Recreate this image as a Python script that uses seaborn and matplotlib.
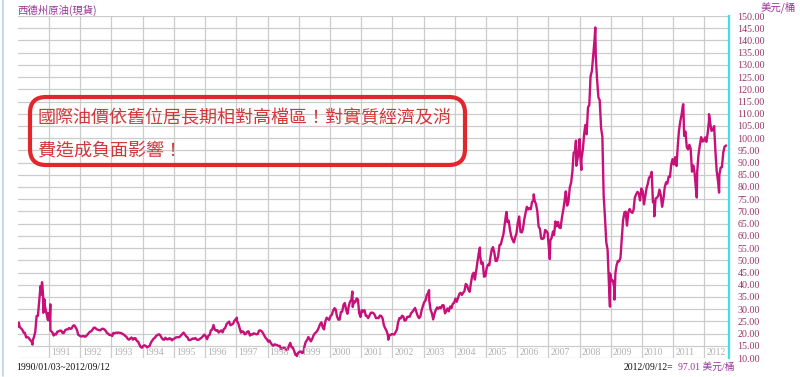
import matplotlib
matplotlib.use("Agg")
import matplotlib.pyplot as plt
from matplotlib.patches import FancyBboxPatch
from matplotlib.lines import Line2D
import pandas as pd
import seaborn as sns

# ---- data (WTI spot, USD/bbl) ----
# early-month readings
p1990 = [22.9, 22.1, 20.4, 18.4, 18.2, 16.9, 18.6, 27.2, 33.7, 35.9, 32.3, 27.3]
p1991 = [25.2, 20.5, 19.9, 20.8, 21.2, 20.2, 21.4, 21.7, 21.9, 23.2, 22.5, 19.5]
p1992 = [18.8, 19.0, 18.9, 20.2, 20.9, 22.4, 21.8, 21.4, 21.9, 21.7, 20.3, 19.4]
p1993 = [19.0, 20.1, 20.3, 20.3, 19.9, 19.1, 17.9, 18.0, 17.5, 18.1, 16.7, 14.5]
p1994 = [15.0, 14.8, 14.7, 16.4, 17.9, 19.1, 19.7, 18.4, 17.5, 17.7, 18.1, 17.2]
p1995 = [18.0, 18.5, 18.6, 19.9, 19.7, 18.5, 17.3, 18.0, 18.2, 17.4, 18.0, 19.0]
p1996 = [18.9, 19.1, 21.3, 23.5, 21.2, 20.4, 21.3, 21.9, 23.9, 24.9, 23.7, 25.2]
p1997 = [25.1, 22.2, 20.9, 19.7, 20.8, 19.2, 19.6, 19.9, 19.8, 21.3, 20.2, 18.3]
p1998 = [16.7, 16.1, 15.0, 15.4, 14.9, 13.7, 14.2, 13.4, 15.0, 14.4, 12.9, 11.3]
p1999 = [12.5, 12.0, 14.7, 17.3, 17.8, 17.9, 20.1, 21.3, 23.9, 22.6, 25.0, 26.1]
p2000 = [27.2, 29.4, 29.9, 25.7, 28.8, 31.8, 29.8, 31.2, 33.9, 33.1, 34.4, 28.4]
p2001 = [29.6, 29.6, 27.2, 27.4, 28.6, 27.6, 26.4, 27.4, 26.2, 22.2, 19.6, 19.3]
p2002 = [19.7, 20.7, 24.5, 26.2, 27.0, 25.5, 26.9, 28.4, 29.7, 28.9, 26.3, 29.4]
p2003 = [32.9, 35.9, 33.6, 28.3, 28.1, 30.7, 30.8, 31.6, 28.3, 30.3, 31.1, 32.2]
p2004 = [34.3, 34.7, 36.7, 36.7, 40.3, 38.0, 40.7, 44.9, 46.0, 53.1, 48.5, 43.3]
p2005 = [46.8, 48.0, 54.3, 53.0, 49.8, 56.3, 58.7, 65.0, 65.6, 62.4, 58.3, 59.4]
p2006 = [65.5, 61.6, 62.7, 69.4, 70.8, 70.9, 74.4, 73.0, 63.8, 58.9, 59.1, 62.0]
p2007 = [54.5, 59.3, 60.4, 63.9, 63.4, 67.5, 74.1, 72.4, 79.9, 86.2, 94.6, 91.7]
p2008 = [92.9, 95.4, 105.4, 112.6, 125.4, 133.9, 133.4, 116.7, 104.1, 76.6, 57.3, 41.1]
p2009 = [41.7, 39.1, 47.9, 49.6, 59.0, 69.6, 64.2, 71.0, 69.4, 75.7, 78.0, 74.5]
p2010 = [78.3, 76.4, 81.2, 84.3, 73.7, 75.3, 76.3, 76.6, 75.2, 81.9, 84.3, 89.2]
p2011 = [89.2, 88.6, 102.9, 109.5, 100.9, 96.3, 97.3, 86.3, 85.5, 86.3, 97.2, 98.6]
p2012 = [100.3, 102.2, 106.2, 103.3, 94.7, 82.3, 87.9, 94.1]

# late-month readings
q1990 = [22.6, 21.5, 20.3, 18.6, 17.4, 17.1, 20.7, 27.3, 39.5, 35.2, 29.5, 28.4]
q1991 = [21.0, 19.2, 19.6, 20.9, 21.2, 20.3, 21.7, 22.3, 22.2, 23.4, 21.5, 19.2]
q1992 = [18.9, 18.7, 19.5, 20.8, 21.6, 22.4, 21.6, 21.3, 22.0, 21.2, 19.9, 19.5]
q1993 = [20.3, 20.4, 20.4, 20.2, 19.6, 18.7, 17.5, 18.4, 18.1, 17.0, 15.5, 14.2]
q1994 = [15.2, 14.3, 15.0, 17.2, 18.3, 19.4, 19.4, 17.6, 18.3, 17.6, 17.9, 17.7]
q1995 = [18.4, 18.5, 19.2, 20.4, 18.9, 17.4, 17.6, 17.8, 17.6, 17.6, 18.4, 19.6]
q1996 = [17.7, 19.5, 21.6, 21.7, 21.4, 20.9, 20.5, 22.3, 24.4, 23.4, 24.0, 25.9]
q1997 = [24.2, 20.4, 20.8, 19.9, 20.9, 19.7, 20.1, 19.7, 21.2, 21.0, 19.2, 17.7]
q1998 = [17.2, 15.4, 15.6, 15.3, 15.0, 13.9, 14.1, 13.4, 16.2, 14.3, 11.3, 12.1]
q1999 = [12.7, 12.3, 16.6, 18.6, 16.8, 19.3, 20.5, 22.4, 24.6, 21.7, 26.5, 25.6]
q2000 = [27.7, 30.4, 27.0, 25.7, 29.0, 32.5, 28.1, 33.1, 30.9, 32.8, 34.0, 26.8]
q2001 = [29.0, 27.3, 26.3, 28.5, 28.4, 26.3, 26.3, 27.2, 23.4, 21.2, 19.4, 19.8]
q2002 = [19.6, 21.7, 26.3, 27.3, 25.3, 26.8, 26.9, 28.9, 30.5, 27.3, 26.9, 31.2]
q2003 = [33.5, 36.6, 29.8, 25.8, 29.6, 30.2, 30.4, 31.6, 29.2, 29.1, 30.4, 32.5]
q2004 = [33.0, 36.2, 35.8, 37.4, 39.8, 37.1, 43.8, 42.1, 49.6, 51.8, 49.1, 43.5]
q2005 = [48.2, 51.7, 55.4, 49.7, 51.8, 56.5, 60.6, 68.9, 66.2, 59.8, 57.3, 61.0]
q2006 = [67.9, 61.4, 66.6, 71.9, 71.3, 73.9, 74.4, 70.3, 62.9, 58.7, 62.4, 61.1]
q2007 = [58.1, 61.8, 65.9, 65.7, 63.2, 70.5, 78.2, 74.0, 81.7, 94.0, 88.7, 96.0]
q2008 = [91.8, 101.8, 101.6, 113.5, 127.4, 140.0, 124.1, 115.5, 100.6, 67.8, 54.4, 44.6]
q2009 = [41.7, 44.8, 49.7, 51.1, 66.3, 69.9, 69.5, 69.9, 70.6, 77.0, 77.3, 79.4]
q2010 = [72.9, 79.7, 83.8, 86.2, 74.0, 75.6, 78.9, 71.9, 79.9, 81.4, 84.1, 91.4]
q2011 = [92.2, 97.0, 106.7, 113.4, 102.7, 95.4, 95.7, 88.8, 79.2, 93.2, 100.4, 98.8]
q2012 = [98.5, 107.1, 103.0, 104.9, 86.5, 84.9, 88.1, 96.5]

# daily extremes visible in the chart
event_dates = ["1990-01-03", "1990-01-12", "1990-06-22", "1990-09-26", "1990-10-11",
               "1990-10-26", "1990-11-08", "1990-12-20", "1991-01-16", "1991-01-17",
               "1997-01-07", "1998-12-10", "2000-09-20", "2001-11-15", "2003-03-07",
               "2004-10-22", "2005-08-30", "2006-07-14", "2007-01-18", "2007-11-20",
               "2008-01-02", "2008-01-22", "2008-07-03", "2008-12-22", "2009-02-12",
               "2010-05-25", "2011-04-29", "2011-10-04", "2012-02-24", "2012-06-21",
               "2012-09-12"]
event_prices = [23.0, 24.5, 15.5, 39.5, 41.0,
                28.5, 34.0, 25.5, 32.0, 21.4,
                26.5, 10.8, 37.2, 17.5, 37.8,
                55.2, 69.8, 77.0, 50.5, 99.0,
                99.6, 87.0, 145.3, 31.0, 33.9,
                68.0, 113.9, 75.7, 109.8, 77.7,
                97.01]

y_ticks = list(range(10, 151, 5))
year_labels = [str(y) for y in range(1991, 2013)]

title_text = "西德州原油(現貨)"
unit_text = "美元/桶"
range_text = "1990/01/03~2012/09/12"
last_date_text = "2012/09/12="
last_value_text = "97.01 美元/桶"
note_lines = ["國際油價依舊位居長期相對高檔區！對實質經濟及消", "費造成負面影響！"]

# ---- build table ----
early = (p1990 + p1991 + p1992 + p1993 + p1994 + p1995 + p1996 + p1997 + p1998
         + p1999 + p2000 + p2001 + p2002 + p2003 + p2004 + p2005 + p2006 + p2007
         + p2008 + p2009 + p2010 + p2011 + p2012)
late = (q1990 + q1991 + q1992 + q1993 + q1994 + q1995 + q1996 + q1997 + q1998
        + q1999 + q2000 + q2001 + q2002 + q2003 + q2004 + q2005 + q2006 + q2007
        + q2008 + q2009 + q2010 + q2011 + q2012)
month_starts = pd.date_range("1990-01-01", periods=len(early), freq="MS")
df = pd.concat([
    pd.DataFrame({"date": month_starts + pd.Timedelta(days=8), "price": early}),
    pd.DataFrame({"date": month_starts + pd.Timedelta(days=23), "price": late}),
    pd.DataFrame({"date": pd.to_datetime(event_dates), "price": event_prices}),
]).sort_values("date").reset_index(drop=True)
df = df[df["date"] >= pd.Timestamp("1990-01-03")]

# ---- style ----
sns.set_theme(style="white")
plt.rcParams["font.family"] = ["Liberation Serif", "Noto Sans CJK TC", "DejaVu Sans"]

W, H = 800, 377
fig = plt.figure(figsize=(8.0, 3.77), dpi=100)
fig.patch.set_facecolor("white")
ax = fig.add_axes([18 / W, 1 - 358 / H, (729 - 18) / W, (358 - 16) / H])
ax.set_facecolor("white")

line_color = "#C8107A"
tick_color = "#993366"
grid_color = "#cccccc"

sns.lineplot(data=df, x="date", y="price", ax=ax, color=line_color,
             linewidth=1.7, estimator=None, sort=False)

ax.set_xlim(pd.Timestamp("1990-01-03"), pd.Timestamp("2012-10-15"))
ax.set_ylim(10, 150)
ax.set_xlabel("")
ax.set_ylabel("")

year_starts = [pd.Timestamp(f"{y}-01-01") for y in year_labels]
ax.set_xticks(year_starts)
ax.set_xticklabels([])
ax.set_yticks(y_ticks)
ax.set_yticklabels([f"{v:.2f}" for v in y_ticks])
ax.yaxis.tick_right()
ax.tick_params(axis="y", length=0, pad=6, labelsize=7.2, labelcolor=tick_color)
ax.tick_params(axis="x", length=0)
for lab in ax.get_yticklabels():
    lab.set_fontfamily("Liberation Serif")

ax.grid(True, color=grid_color, linewidth=0.9)
ax.set_axisbelow(True)
for s in ["left", "top", "bottom"]:
    ax.spines[s].set_visible(False)
ax.spines["right"].set_color("#3fe0e8")
ax.spines["right"].set_linewidth(1.6)

# year labels inside plot at bottom
for d, lab in zip(year_starts, year_labels):
    ax.annotate(lab, xy=(d, 12.2), xytext=(2, 0), textcoords="offset pixels",
                ha="left", va="center", fontsize=7, color="#b0b0b0",
                family="Liberation Serif")

# ---- figure texts ----
def fx(x):
    return x / W

def fy(y):
    return 1 - y / H

fig.text(fx(17), fy(10), title_text, fontsize=7.5, color="#993399",
         family=["Noto Sans CJK TC"], ha="left", va="center")
fig.text(fx(796), fy(7), unit_text, fontsize=7.5, color="#993399",
         family=["Noto Sans CJK TC"], ha="right", va="center")
fig.text(fx(16), fy(367), range_text, fontsize=7, color="#111111",
         family=["Liberation Serif"], ha="left", va="center")
fig.text(fx(673), fy(367), last_date_text, fontsize=7, color="#111111",
         family=["Liberation Serif"], ha="right", va="center")
fig.text(fx(678), fy(367), last_value_text, fontsize=7, color="#993399",
         family=["Liberation Serif", "Noto Sans CJK TC"], ha="left", va="center")

# left border line
fig.add_artist(Line2D([fx(3), fx(3)], [fy(0), fy(376)], color="#b8d4ec", linewidth=1.2))

# annotation box
box = FancyBboxPatch((fx(30), fy(165)), fx(435), (167 - 99) / H,
                     boxstyle="round,pad=0,rounding_size=0.02",
                     transform=fig.transFigure, facecolor="none",
                     edgecolor="#E3262B", linewidth=3.0, mutation_aspect=800 / 377)
fig.add_artist(box)
fig.text(fx(38), fy(118), note_lines[0], fontsize=13, color="#D4373A",
         family=["Noto Sans CJK TC"], ha="left", va="center")
fig.text(fx(38), fy(150), note_lines[1], fontsize=13, color="#D4373A",
         family=["Noto Sans CJK TC"], ha="left", va="center")

fig.savefig("out.png", dpi=100, facecolor="white")
